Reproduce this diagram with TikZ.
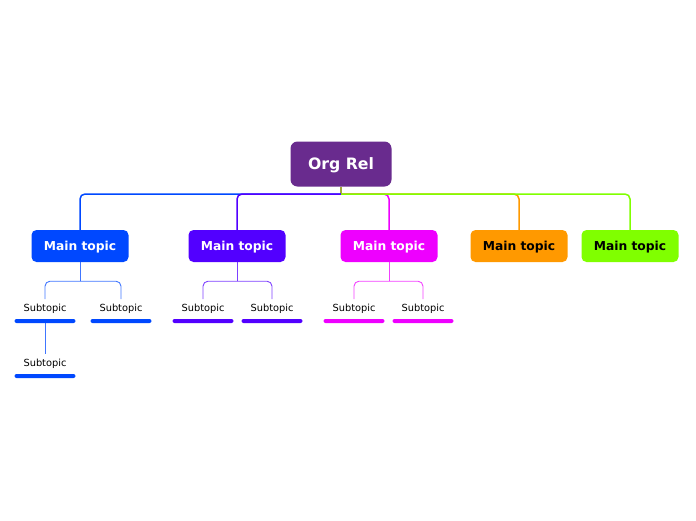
\documentclass[tikz,border=0pt]{standalone}
\usepackage{fontspec}
\setmainfont{DejaVu Sans}
\definecolor{corg}{HTML}{692B8E}
\definecolor{cblue}{HTML}{0048FF}
\definecolor{cpurple}{HTML}{5200FF}
\definecolor{cmagenta}{HTML}{EE00FF}
\definecolor{corange}{HTML}{FF9900}
\definecolor{cgreen}{HTML}{80FF00}
\definecolor{cstub}{HTML}{A3A83C}
\begin{document}
\begin{tikzpicture}[x=1pt, y=-1pt]
	\tikzstyle{root}    = [rectangle, rounded corners=7pt, minimum width=101pt, minimum height=45pt, inner sep=0pt, text depth=0pt, fill=corg, text=white, font=\fontsize{15.7}{18}\selectfont\bfseries]
	\tikzstyle{topic}   = [rectangle, rounded corners=5pt, minimum width=97pt, minimum height=32pt, inner sep=0pt, text depth=0pt, font=\fontsize{12.3}{14}\selectfont\bfseries]
	\tikzstyle{subtext} = [inner sep=5pt, text depth=0pt, font=\fontsize{9.8}{11}\selectfont]
	\tikzstyle{bar}     = [rectangle, rounded corners=2pt, minimum width=61pt, minimum height=4pt, inner sep=0pt]
	\tikzstyle{branch}  = [line width=1.5pt, rounded corners=5pt]
	\tikzstyle{twig}    = [line width=0.9pt, rounded corners=5pt, opacity=0.75]

	\useasboundingbox (0,0) rectangle (696,520);

	\node[root] (org) at (341,164) {Org Rel};
	\coordinate (hub) at (341,194);
	\draw[line width=1.5pt, cstub] (org.south) -- (hub);

	\foreach \name/\x/\col/\txt in {m1/80/cblue/white, m2/237/cpurple/white, m3/389/cmagenta/white, m4/519/corange/black, m5/630/cgreen/black}
		\node[topic, fill=\col, text=\txt] (\name) at (\x,246) {Main topic};

	\foreach \to/\col in {m1/cblue, m2/cpurple, m3/cmagenta, m4/corange, m5/cgreen}
		\draw[branch, \col] (hub) -| (\to.north);

	\foreach \name/\x/\y/\col in {s11/45/308/cblue, s12/121/308/cblue, s13/45/363/cblue, s21/203/308/cpurple, s22/272/308/cpurple, s31/354/308/cmagenta, s32/423/308/cmagenta} {
		\node[subtext] (\name) at (\x,\y) {Subtopic};
		\node[bar, fill=\col] (\name b) at (\x,\y+13) {};
	}

	\foreach \from/\col in {m1/cblue, m2/cpurple, m3/cmagenta}
		\draw[twig, \col] (\from.south) -- ++(0,19) coordinate (\from j);

	\foreach \from/\to/\col in {m1/s11/cblue, m1/s12/cblue, m2/s21/cpurple, m2/s22/cpurple, m3/s31/cmagenta, m3/s32/cmagenta}
		\draw[twig, \col] (\from j) -| (\to.north);

	\draw[twig, cblue] (s11b.south) -- (s13.north);
\end{tikzpicture}
\end{document}
